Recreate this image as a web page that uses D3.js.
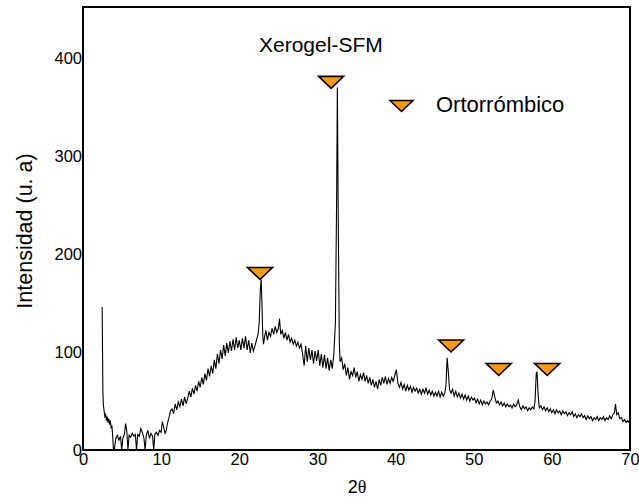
<!DOCTYPE html>
<html>
<head>
<meta charset="utf-8">
<script src="https://cdn.jsdelivr.net/npm/d3@7"></script>
<style>
  body { margin: 0; background: #fff; }
  text { font-family: "Liberation Sans", Arial, sans-serif; }
</style>
</head>
<body>
<div id="chart"></div>
<script>
// diffractogram (2theta in degrees, intensity in a.u.)
const twoTheta = [
  2.45, 2.5, 2.55, 2.6, 2.7, 2.8, 2.9, 3.0, 3.1, 3.2, 3.3, 3.4, 3.5, 3.6, 3.7, 3.8, 3.9,
  4.0, 4.2, 4.4, 4.6, 4.8, 4.95, 5.1, 5.3, 5.45, 5.6, 5.75, 5.9, 6.1, 6.3, 6.5, 6.7, 6.85,
  7.0, 7.2, 7.4, 7.6, 7.8, 7.95, 8.1, 8.3, 8.5, 8.7, 8.9, 9.05, 9.2, 9.4, 9.6, 9.8,
  10.0, 10.15, 10.3, 10.5, 10.65, 10.8, 11.0, 11.2, 11.4, 11.6, 11.8, 12.0, 12.2, 12.4, 12.6, 12.8,
  13.0, 13.2, 13.4, 13.6, 13.8, 14.0, 14.2, 14.4, 14.6, 14.8, 15.0, 15.2, 15.4, 15.6, 15.8,
  16.0, 16.2, 16.4, 16.6, 16.8, 17.0, 17.2, 17.4, 17.6, 17.8, 18.0, 18.2, 18.4, 18.6, 18.8,
  19.0, 19.2, 19.4, 19.6, 19.8, 20.0, 20.2, 20.4, 20.6, 20.8, 21.0, 21.2, 21.4, 21.6, 21.8,
  22.0, 22.2, 22.4, 22.55, 22.7, 22.8, 22.9, 23.0, 23.1, 23.25, 23.4, 23.6, 23.8,
  24.0, 24.2, 24.4, 24.6, 24.8, 25.0, 25.15, 25.3, 25.5, 25.7, 25.9, 26.1, 26.3, 26.5, 26.7, 26.9,
  27.1, 27.3, 27.5, 27.7, 27.9, 28.1, 28.3, 28.5, 28.7, 28.9, 29.1, 29.3, 29.5, 29.7, 29.9,
  30.1, 30.3, 30.5, 30.7, 30.9, 31.1, 31.3, 31.5, 31.7, 31.9, 32.1, 32.3, 32.45, 32.55, 32.65, 32.8, 32.9,
  33.1, 33.3, 33.5, 33.7, 33.9, 34.1, 34.3, 34.5, 34.7, 34.9, 35.1, 35.3, 35.5, 35.7, 35.9,
  36.1, 36.3, 36.5, 36.7, 36.9, 37.1, 37.3, 37.5, 37.7, 37.9, 38.1, 38.3, 38.5, 38.7, 38.9,
  39.1, 39.3, 39.5, 39.7, 39.9, 40.1, 40.3, 40.5, 40.7, 40.9, 41.1, 41.3, 41.5, 41.7, 41.9,
  42.1, 42.3, 42.5, 42.7, 42.9, 43.1, 43.3, 43.5, 43.7, 43.9, 44.1, 44.3, 44.5, 44.7, 44.9,
  45.1, 45.3, 45.5, 45.7, 45.9, 46.1, 46.3, 46.45, 46.6, 46.75, 46.9, 47.1, 47.3, 47.5, 47.7, 47.9,
  48.1, 48.3, 48.5, 48.7, 48.9, 49.1, 49.3, 49.5, 49.7, 49.9, 50.1, 50.3, 50.5, 50.7, 50.9,
  51.1, 51.3, 51.5, 51.7, 51.9, 52.1, 52.3, 52.5, 52.7, 52.9, 53.1, 53.3, 53.5, 53.7, 53.9,
  54.1, 54.3, 54.5, 54.7, 54.9, 55.1, 55.3, 55.5, 55.7, 55.9, 56.1, 56.3, 56.5, 56.7, 56.9,
  57.1, 57.3, 57.5, 57.7, 57.85, 58.0, 58.1, 58.25, 58.4, 58.6, 58.8, 59.0, 59.2, 59.4, 59.6, 59.8,
  60.0, 60.2, 60.4, 60.6, 60.8, 61.0, 61.2, 61.4, 61.6, 61.8, 62.0, 62.2, 62.4, 62.6, 62.8,
  63.0, 63.2, 63.4, 63.6, 63.8, 64.0, 64.2, 64.4, 64.6, 64.8, 65.0, 65.2, 65.4, 65.6, 65.8,
  66.0, 66.2, 66.4, 66.6, 66.8, 67.0, 67.2, 67.4, 67.6, 67.8, 68.0, 68.15, 68.3, 68.5, 68.7, 68.9,
  69.1, 69.3, 69.5, 69.7, 69.9
];
const intensity = [
  146, 100, 60, 46, 40, 34, 36, 30, 34, 28, 32, 26, 30, 22, 25, 14, 0,
  0, 12, 15, 10, 14, 0, 12, 16, 27, 20, 0, 15, 13, 17, 14, 16, 0,
  16, 14, 22, 18, 12, 0, 15, 20, 12, 17, 14, 0, 16, 18, 15, 20,
  18, 29, 24, 17, 20, 27, 33, 40, 42, 37, 47, 41, 49, 44, 52, 45,
  54, 47, 53, 60, 54, 63, 57, 66, 60, 70, 64, 74, 67, 78, 71,
  83, 75, 86, 78, 92, 83, 98, 88, 102, 93, 107, 96, 109, 99, 111,
  101, 113, 102, 115, 104, 112, 102, 114, 104, 116, 102, 112, 99, 109, 101,
  106, 112, 118, 130, 165, 174, 150, 118, 108, 116, 122, 112, 120,
  116, 124, 118, 126, 120, 124, 134, 118, 122, 114, 120, 112, 118, 110, 114, 108,
  112, 106, 110, 104, 108, 98, 86, 106, 90, 104, 92, 102, 88, 101, 91,
  102, 86, 98, 84, 97, 83, 94, 81, 92, 83, 98, 130, 250, 370, 250, 110, 90,
  94, 82, 88, 76, 84, 72, 80, 76, 84, 74, 80, 70, 77, 72, 79,
  70, 76, 68, 74, 66, 72, 64, 70, 62, 72, 66, 74, 68, 75, 67,
  73, 68, 74, 70, 76, 82, 68, 64, 69, 62, 67, 60, 66, 61, 65,
  59, 64, 60, 63, 58, 62, 57, 62, 58, 63, 57, 61, 56, 60, 55,
  59, 55, 60, 54, 59, 55, 58, 66, 94, 80, 62, 58, 62, 55, 60, 54,
  58, 53, 57, 52, 56, 51, 55, 50, 54, 51, 53, 48, 52, 47, 51,
  46, 50, 47, 49, 46, 50, 52, 61, 54, 48, 50, 46, 49, 45, 48,
  44, 47, 44, 46, 43, 47, 44, 46, 51, 44, 41, 45, 42, 44, 40,
  43, 41, 44, 42, 50, 78, 80, 55, 43, 45, 41, 44, 40, 43, 39, 42,
  38, 41, 37, 41, 38, 40, 36, 40, 37, 39, 35, 38, 36, 39, 34,
  37, 33, 36, 34, 37, 33, 35, 31, 35, 32, 34, 30, 33, 31, 34,
  30, 33, 31, 34, 30, 33, 31, 35, 32, 36, 38, 47, 36, 38, 32, 33,
  29, 31, 28, 30, 28
];

// orthorhombic reflection markers (tip position)
const markerTheta = [22.65, 31.75, 47.1, 53.2, 59.4];
const markerIntensity = [174, 369, 100, 76, 76];

const xTicks = [0, 10, 20, 30, 40, 50, 60, 70];
const yTicks = [0, 100, 200, 300, 400];

const chartTitle = "Xerogel-SFM";
const legendLabel = "Ortorrómbico";

const width = 639, height = 497;
const margin = { left: 83, top: 7, right: 9, bottom: 47 };
const innerW = width - margin.left - margin.right;
const innerH = height - margin.top - margin.bottom;

const svg = d3.select("#chart").append("svg")
  .attr("width", width)
  .attr("height", height);

const g = svg.append("g")
  .attr("transform", `translate(${margin.left},${margin.top})`);

const x = d3.scaleLinear().domain([0, 70]).range([0, innerW]);
const y = d3.scaleLinear().domain([0, 452]).range([innerH, 0]);

// axes (no tick marks, just labels)
const xAxis = g.append("g")
  .attr("transform", `translate(0,${innerH})`)
  .call(d3.axisBottom(x).tickValues(xTicks).tickSize(0).tickPadding(3));
xAxis.select(".domain").remove();
xAxis.selectAll("text").attr("font-size", 16.5).attr("fill", "#000")
  .style("font-family", "'Liberation Sans', Arial, sans-serif");

const yAxis = g.append("g")
  .call(d3.axisLeft(y).tickValues(yTicks).tickSize(0).tickPadding(1));
yAxis.select(".domain").remove();
yAxis.selectAll("text").attr("font-size", 16.5).attr("fill", "#000")
  .style("font-family", "'Liberation Sans', Arial, sans-serif");

// pattern
const pts = twoTheta.map((t, i) => [t, intensity[i]]);
const line = d3.line()
  .x(d => x(d[0]))
  .y(d => y(d[1]));

g.append("path")
  .datum(pts)
  .attr("fill", "none")
  .attr("stroke", "#000")
  .attr("stroke-width", 1.1)
  .attr("stroke-linejoin", "miter")
  .attr("d", line);

// frame
g.append("rect")
  .attr("width", innerW)
  .attr("height", innerH)
  .attr("fill", "none")
  .attr("stroke", "#000")
  .attr("stroke-width", 2);

// markers
const tri = (w, h) => `M${-w / 2},${-h}L${w / 2},${-h}L0,0Z`;
g.selectAll(".marker")
  .data(markerTheta.map((t, i) => [t, markerIntensity[i]]))
  .enter()
  .append("path")
  .attr("class", "marker")
  .attr("transform", d => `translate(${x(d[0])},${y(d[1])})`)
  .attr("d", tri(25, 12))
  .attr("fill", "#FF9900")
  .attr("stroke", "#000")
  .attr("stroke-width", 1.6)
  .attr("stroke-linejoin", "miter");

// title
svg.append("text")
  .attr("x", 259)
  .attr("y", 52)
  .attr("font-size", 21)
  .text(chartTitle);

// legend
svg.append("path")
  .attr("transform", "translate(401.5,111.5)")
  .attr("d", tri(23, 11))
  .attr("fill", "#FF9900")
  .attr("stroke", "#000")
  .attr("stroke-width", 1.6);

svg.append("text")
  .attr("x", 436)
  .attr("y", 112)
  .attr("font-size", 22)
  .text(legendLabel);

// axis titles
svg.append("text")
  .attr("transform", "translate(32,231) rotate(-90)")
  .attr("text-anchor", "middle")
  .attr("font-size", 21.5)
  .text("Intensidad (u. a)");

const xt = svg.append("text")
  .attr("x", 357)
  .attr("y", 493)
  .attr("text-anchor", "middle")
  .attr("font-size", 18);
xt.append("tspan").text("2");
xt.append("tspan").style("font-family", "'Liberation Serif', 'DejaVu Serif', serif").text("θ");
</script>
</body>
</html>
